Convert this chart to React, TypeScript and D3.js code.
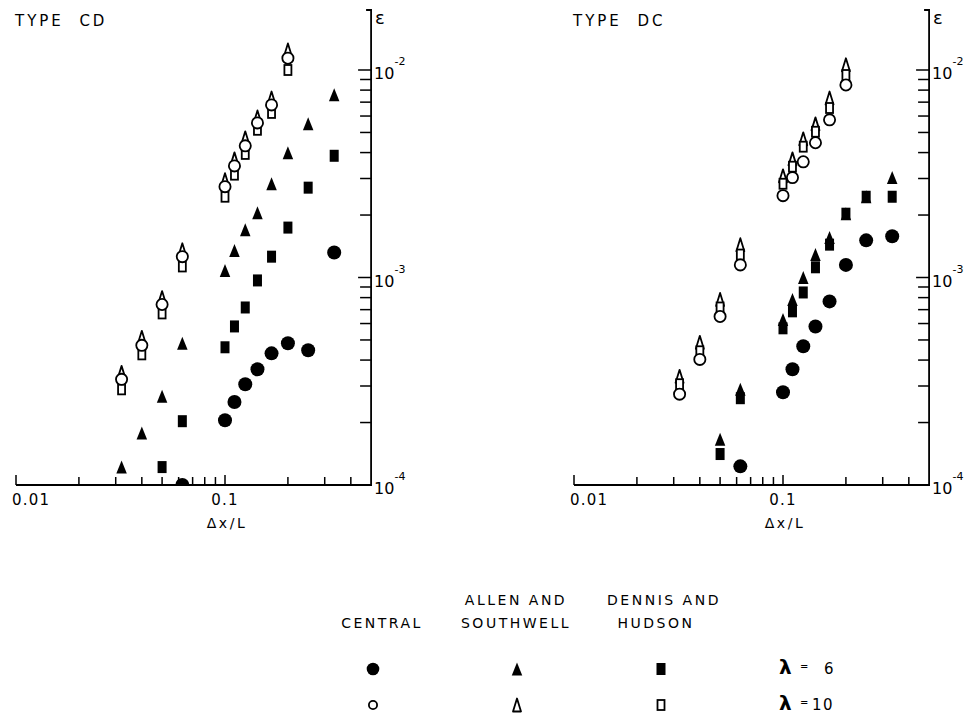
import React from "react";
import * as d3 from "d3";

// ---------- DATA ----------
const X_L6_FULL = [0.032, 0.04, 0.05, 0.0625, 0.1, 0.111, 0.125, 0.143, 0.167, 0.2, 0.25, 0.333];
const X_L6_FROM05 = [0.05, 0.0625, 0.1, 0.111, 0.125, 0.143, 0.167, 0.2, 0.25, 0.333];
const X_L6_CENTRAL = [0.0625, 0.1, 0.111, 0.125, 0.143, 0.167, 0.2, 0.25, 0.333];
const X_L10 = [0.032, 0.04, 0.05, 0.0625, 0.1, 0.111, 0.125, 0.143, 0.167, 0.2];

// TYPE CD
const CD_CENTRAL_L6 = [1.0e-4, 2.05e-4, 2.51e-4, 3.06e-4, 3.61e-4, 4.31e-4, 4.82e-4, 4.46e-4, 1.32e-3];
const CD_ALLEN_L6 = [1.22e-4, 1.78e-4, 2.68e-4, 4.82e-4, 1.08e-3, 1.35e-3, 1.7e-3, 2.05e-3, 2.83e-3, 3.99e-3, 5.5e-3, 7.59e-3];
const CD_DENNIS_L6 = [1.22e-4, 2.03e-4, 4.61e-4, 5.81e-4, 7.17e-4, 9.68e-4, 1.26e-3, 1.74e-3, 2.71e-3, 3.86e-3];
const CD_CENTRAL_L10 = [3.23e-4, 4.71e-4, 7.41e-4, 1.26e-3, 2.74e-3, 3.45e-3, 4.31e-3, 5.56e-3, 6.79e-3, 1.14e-2];
const CD_ALLEN_L10 = [3.49e-4, 5.15e-4, 8.0e-4, 1.36e-3, 2.96e-3, 3.73e-3, 4.71e-3, 5.94e-3, 7.33e-3, 1.25e-2];
const CD_DENNIS_L10 = [2.89e-4, 4.26e-4, 6.71e-4, 1.13e-3, 2.45e-3, 3.13e-3, 3.94e-3, 5.15e-3, 6.21e-3, 1.0e-2];

// TYPE DC
const DC_CENTRAL_L6 = [1.23e-4, 2.8e-4, 3.61e-4, 4.66e-4, 5.81e-4, 7.67e-4, 1.15e-3, 1.51e-3, 1.58e-3];
const DC_ALLEN_L6 = [1.66e-4, 2.89e-4, 6.28e-4, 7.84e-4, 1.0e-3, 1.29e-3, 1.56e-3, 2.03e-3, 2.45e-3, 3.03e-3];
const DC_DENNIS_L6 = [1.41e-4, 2.62e-4, 5.69e-4, 6.87e-4, 8.47e-4, 1.12e-3, 1.44e-3, 2.03e-3, 2.45e-3, 2.45e-3];
const DC_CENTRAL_L10 = [2.74e-4, 4.03e-4, 6.49e-4, 1.15e-3, 2.48e-3, 3.03e-3, 3.61e-3, 4.46e-3, 5.75e-3, 8.47e-3];
const DC_ALLEN_L10 = [3.34e-4, 4.87e-4, 7.84e-4, 1.44e-3, 3.09e-3, 3.73e-3, 4.66e-3, 5.5e-3, 7.33e-3, 1.06e-2];
const DC_DENNIS_L10 = [3.06e-4, 4.41e-4, 7.17e-4, 1.29e-3, 2.83e-3, 3.42e-3, 4.27e-3, 5.04e-3, 6.56e-3, 9.46e-3];

const X_DOMAIN = [0.01, 0.5];
const Y_DOMAIN = [1e-4, 1e-2];
const X_LABELS = [{ v: 0.01, t: "0.01" }, { v: 0.1, t: "0.1" }];
const Y_LABELS = [{ v: 1e-2, e: "-2" }, { v: 1e-3, e: "-3" }, { v: 1e-4, e: "-4" }];
const PANEL_TITLES = ["TYPE  CD", "TYPE  DC"];
const LEGEND_COLS = [["", "CENTRAL"], ["ALLEN AND", "SOUTHWELL"], ["DENNIS AND", "HUDSON"]];
const LEGEND_ROWS = ["6", "10"];

// ---------- MARKERS ----------
type Kind = "circle" | "tri" | "sq";
function Marker({ kind, filled, cx, cy, legend = false }: { kind: Kind; filled: boolean; cx: number; cy: number; legend?: boolean }) {
  const sw = 1.8;
  const fill = filled ? "#000" : "#fff";
  const stroke = "#000";
  if (kind === "circle") {
    const r = filled ? (legend ? 6.3 : 7) : legend ? 5 : 6.5;
    return <circle cx={cx} cy={cy} r={filled ? r : r - sw / 2} fill={fill} stroke={filled ? "none" : stroke} strokeWidth={sw} />;
  }
  if (kind === "tri") {
    const w = filled ? 10.5 : 8;
    const h = 13;
    const d = `M${cx},${cy - h / 2} L${cx + w / 2},${cy + h / 2} L${cx - w / 2},${cy + h / 2} Z`;
    return <path d={d} fill={fill} stroke={filled ? "none" : stroke} strokeWidth={sw} strokeLinejoin="round" />;
  }
  const w = filled ? 9 : 7;
  const h = filled ? 12 : 10;
  return <rect x={cx - w / 2} y={cy - h / 2} width={w} height={h} fill={fill} stroke={filled ? "none" : stroke} strokeWidth={sw} />;
}

const FONT = "'DejaVu Sans', 'Liberation Sans', sans-serif";

function Panel({ dx, title, series }: { dx: number; title: string; series: { xs: number[]; ys: number[]; kind: Kind; filled: boolean }[] }) {
  const x = d3.scaleLog().domain(X_DOMAIN).range([16 + dx, 16 + dx + 209 * Math.log10(50)]);
  const y = d3.scaleLog().domain(Y_DOMAIN).range([485, 70]);
  const x0 = x.range()[0];
  const x1 = x.range()[1];
  const yb = y(1e-4);
  const yTop = 10;
  const clipId = `clip${dx}`;
  const xTicks = x.ticks().filter((t) => t < 0.5 - 1e-9);
  const yTicks = y.ticks();
  return (
    <g>
      <defs>
        <clipPath id={clipId}>
          <rect x={x0 - 20} y={0} width={x1 - x0 + 20} height={yb} />
        </clipPath>
      </defs>
      <text x={x0 - 1} y={26} fontFamily={FONT} fontSize={15} letterSpacing={3} style={{ whiteSpace: "pre" }}>{title}</text>
      {/* axes */}
      <path d={`M${x0},${yb} H${x1} V${yTop} h-5`} fill="none" stroke="#000" strokeWidth={1.8} />
      {xTicks.map((t, i) => (
        <line key={"xt" + i} x1={x(t)} x2={x(t)} y1={yb} y2={yb - (t === 0.01 || t === 0.1 ? 10 : 8)} stroke="#000" strokeWidth={1.5} />
      ))}
      {yTicks.map((t, i) => {
        const major = Math.abs(Math.log10(t) - Math.round(Math.log10(t))) < 1e-6;
        return <line key={"yt" + i} x1={x1} x2={x1 - (major ? 13 : 11)} y1={y(t)} y2={y(t)} stroke="#000" strokeWidth={1.5} />;
      })}
      {X_LABELS.map((l, i) => (
        <text key={"xl" + i} x={l.v === 0.01 ? x(l.v) - 4 : x(l.v)} y={505} textAnchor={l.v === 0.01 ? "start" : "middle"} fontFamily={FONT} fontSize={15} letterSpacing={1.2}>{l.t}</text>
      ))}
      <text x={x(0.1) + 2} y={528} textAnchor="middle" fontFamily={FONT} fontSize={14} letterSpacing={2.5} style={{ whiteSpace: "pre" }}>Δx/L</text>
      {Y_LABELS.map((l, i) => (
        <text key={"yl" + i} x={x1 + 3} y={y(l.v) + 9} fontFamily={FONT} fontSize={16}>
          10
          <tspan dx={0} dy={-14} fontSize={11}>{l.e}</tspan>
        </text>
      ))}
      <text x={x1 + 4} y={24} fontFamily={FONT} fontSize={18}>ε</text>
      <g clipPath={`url(#${clipId})`}>
        {series.map((s, si) =>
          s.xs.map((v, i) => <Marker key={si + "-" + i} kind={s.kind} filled={s.filled} cx={x(v)} cy={y(s.ys[i])} />)
        )}
      </g>
    </g>
  );
}

export default function App() {
  const cd = [
    { xs: X_L6_CENTRAL, ys: CD_CENTRAL_L6, kind: "circle" as Kind, filled: true },
    { xs: X_L6_FULL, ys: CD_ALLEN_L6, kind: "tri" as Kind, filled: true },
    { xs: X_L6_FROM05, ys: CD_DENNIS_L6, kind: "sq" as Kind, filled: true },
    { xs: X_L10, ys: CD_ALLEN_L10, kind: "tri" as Kind, filled: false },
    { xs: X_L10, ys: CD_DENNIS_L10, kind: "sq" as Kind, filled: false },
    { xs: X_L10, ys: CD_CENTRAL_L10, kind: "circle" as Kind, filled: false },
  ];
  const dc = [
    { xs: X_L6_CENTRAL, ys: DC_CENTRAL_L6, kind: "circle" as Kind, filled: true },
    { xs: X_L6_FROM05, ys: DC_ALLEN_L6, kind: "tri" as Kind, filled: true },
    { xs: X_L6_FROM05, ys: DC_DENNIS_L6, kind: "sq" as Kind, filled: true },
    { xs: X_L10, ys: DC_ALLEN_L10, kind: "tri" as Kind, filled: false },
    { xs: X_L10, ys: DC_DENNIS_L10, kind: "sq" as Kind, filled: false },
    { xs: X_L10, ys: DC_CENTRAL_L10, kind: "circle" as Kind, filled: false },
  ];
  const colX = [382, 516, 664];
  const kinds: Kind[] = ["circle", "tri", "sq"];
  const rowY = [669, 705];
  return (
    <svg width={964} height={717} style={{ position: "absolute", left: 0, top: 0, background: "#fff" }}>
      <rect width={964} height={717} fill="#fff" />
      <Panel dx={0} title={PANEL_TITLES[0]} series={cd} />
      <Panel dx={558} title={PANEL_TITLES[1]} series={dc} />
      {/* legend */}
      {LEGEND_COLS.map((c, i) => (
        <g key={"lc" + i}>
          <text x={colX[i]} y={605} textAnchor="middle" fontFamily={FONT} fontSize={14} letterSpacing={2.5}>{c[0]}</text>
          <text x={colX[i] - (i === 2 ? 8 : 0)} y={628} textAnchor="middle" fontFamily={FONT} fontSize={14} letterSpacing={2.5}>{c[1]}</text>
        </g>
      ))}
      {LEGEND_ROWS.map((r, ri) => (
        <g key={"lr" + ri}>
          {kinds.map((k, ki) => (
            <Marker key={ki} kind={k} filled={ri === 0} cx={[373, 517, 661][ki]} cy={rowY[ri]} legend />
          ))}
          <text x={779} y={rowY[ri] + 5} fontFamily={FONT} fontSize={20} fontWeight="bold">λ</text>
          <text x={800} y={rowY[ri] + 1} fontFamily={FONT} fontSize={10}>=</text>
          <text x={ri === 0 ? 824 : 812} y={rowY[ri] + 5} fontFamily={FONT} fontSize={15} letterSpacing={1.5}>{r}</text>
        </g>
      ))}
    </svg>
  );
}
